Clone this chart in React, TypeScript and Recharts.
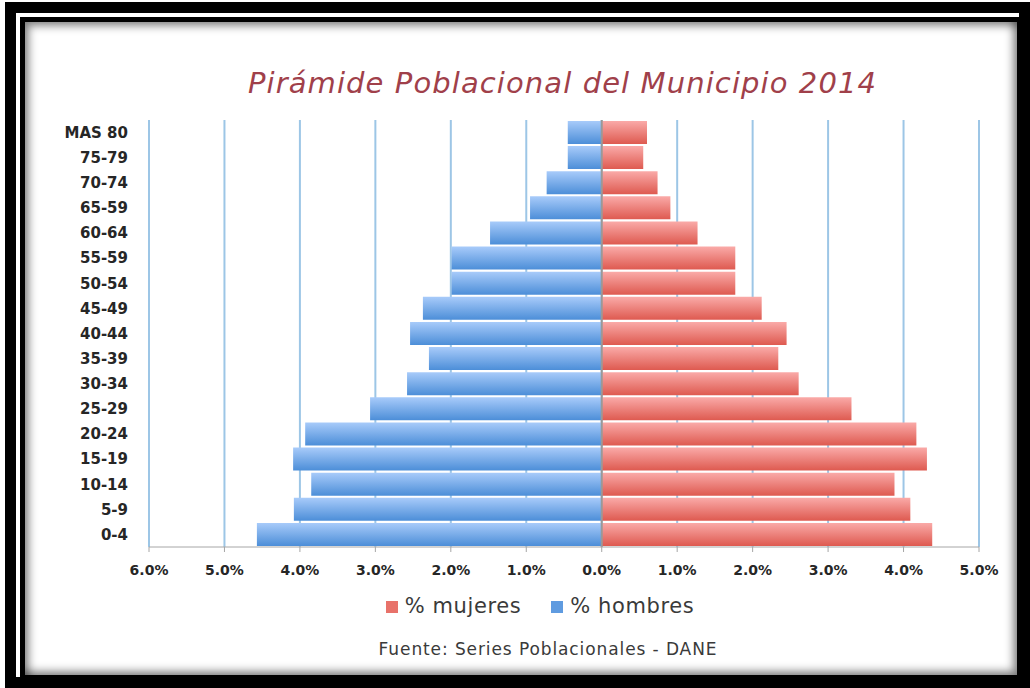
import React from "react";
import {
  BarChart,
  Bar,
  XAxis,
  YAxis,
  CartesianGrid,
  ReferenceLine,
} from "recharts";

const groups = [
  "MAS 80", "75-79", "70-74", "65-59", "60-64", "55-59", "50-54", "45-49", "40-44",
  "35-39", "30-34", "25-29", "20-24", "15-19", "10-14", "5-9", "0-4",
];
const mujeres = [
  0.6, 0.55, 0.74, 0.91, 1.27, 1.77, 1.77, 2.12, 2.45,
  2.34, 2.61, 3.31, 4.17, 4.31, 3.88, 4.09, 4.38,
];
const hombres = [
  0.45, 0.45, 0.73, 0.95, 1.48, 1.99, 1.99, 2.37, 2.54,
  2.29, 2.58, 3.07, 3.93, 4.09, 3.85, 4.08, 4.57,
];
const xTicks = [-6, -5, -4, -3, -2, -1, 0, 1, 2, 3, 4, 5];

const data = groups.map((g, i) => ({
  grupo: g,
  mujeres: mujeres[i],
  hombres: -hombres[i],
}));

const gothic = "'DejaVu Sans', sans-serif";
const tickFont = { fill: "#262626", fontSize: 14, fontWeight: 700, fontFamily: "'DejaVu Sans', sans-serif" };

export default function App() {
  return (
    <div style={{ position: "absolute", left: 0, top: 0, width: 1030, height: 688, background: "#fff" }}>
      <style>{"body{margin:0}"}</style>
      {/* double black frame */}
      <div
        style={{
          position: "absolute", left: 5, top: 2, right: 0, bottom: 0,
          border: "11px solid #000", boxSizing: "border-box",
        }}
      />
      <div
        style={{
          position: "absolute", left: 20, top: 17, right: 8, bottom: 8,
          border: "5px solid #000", boxSizing: "border-box",
          boxShadow: "inset 4px 4px 8px rgba(0,0,0,0.45), inset -4px -4px 8px rgba(0,0,0,0.45)",
        }}
      />
      <div
        style={{
          position: "absolute", left: 0, width: 1030, top: 66, textAlign: "center",
          paddingLeft: 95, boxSizing: "border-box",
          fontFamily: gothic, fontStyle: "italic", fontWeight: 300, fontSize: 29, color: "#A0404A",
          letterSpacing: 1.1,
        }}
      >
        Pirámide Poblacional del Municipio 2014
      </div>

      <div style={{ position: "absolute", left: 0, top: 0 }}>
        <BarChart
          width={1030}
          height={688}
          data={data}
          layout="vertical"
          stackOffset="sign"
          barCategoryGap={1}
          margin={{ top: 120, right: 51, left: 59, bottom: 111 }}
        >
          <defs>
            <linearGradient id="gRed" x1="0" y1="0" x2="0" y2="1">
              <stop offset="0%" stopColor="#FAAAA8" />
              <stop offset="100%" stopColor="#DE5A50" />
            </linearGradient>
            <linearGradient id="gBlue" x1="0" y1="0" x2="0" y2="1">
              <stop offset="0%" stopColor="#A8CBFA" />
              <stop offset="100%" stopColor="#4C8ED8" />
            </linearGradient>
          </defs>
          <CartesianGrid horizontal={false} stroke="#9DC6E6" strokeWidth={2} />
          <XAxis
            type="number"
            domain={[-6, 5]}
            ticks={xTicks}
            interval={0}
            tickFormatter={(v: number) => Math.abs(v).toFixed(1) + "%"}
            stroke="#A6A6A6"
            tickSize={5}
            tickMargin={13}
            tick={tickFont}
          />
          <YAxis
            type="category"
            dataKey="grupo"
            width={90}
            axisLine={false}
            tickLine={false}
            tickMargin={15}
            interval={0}
            tick={{ ...tickFont, fontSize: 15 }}
          />
          <Bar dataKey="mujeres" stackId="a" fill="url(#gRed)" isAnimationActive={false} />
          <Bar dataKey="hombres" stackId="a" fill="url(#gBlue)" isAnimationActive={false} />
          <ReferenceLine x={0} stroke="#999" strokeWidth={2} />
        </BarChart>
      </div>

      {/* legend */}
      <div
        style={{
          position: "absolute", left: 0, width: 1030, top: 594, textAlign: "center",
          paddingLeft: 50, boxSizing: "border-box",
          fontFamily: gothic, fontSize: 21, color: "#3a3a3a", letterSpacing: 0.6,
        }}
      >
        <span style={{ display: "inline-block", width: 12, height: 12, background: "#E8726A", marginRight: 7 }} />
        <span>% mujeres</span>
        <span style={{ display: "inline-block", width: 12, height: 12, background: "#5F9BE0", marginLeft: 30, marginRight: 7 }} />
        <span>% hombres</span>
      </div>
      <div
        style={{
          position: "absolute", left: 0, width: 1030, top: 639, textAlign: "center",
          paddingLeft: 66, boxSizing: "border-box",
          fontFamily: gothic, fontSize: 17, color: "#3a3a3a", letterSpacing: 0.9,
        }}
      >
        Fuente: Series Poblacionales - DANE
      </div>
    </div>
  );
}
